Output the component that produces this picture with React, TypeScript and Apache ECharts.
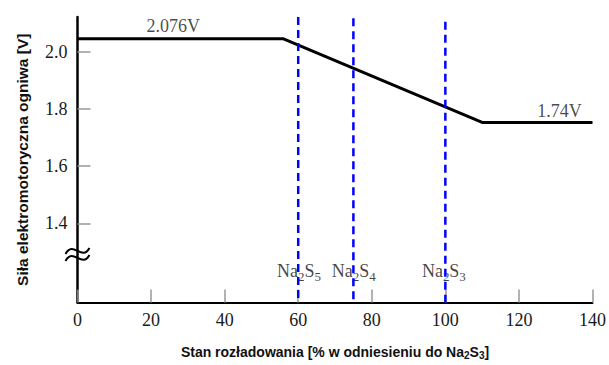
import React, { useEffect, useRef } from "react";
import * as echarts from "echarts";

// Discharge curve (x: state of discharge %, y: EMF V)
const emfX = [0, 56, 110, 140];
const emfY = [2.045, 2.045, 1.753, 1.753];

// Axis ticks
const xTicks = [0, 20, 40, 60, 80, 100, 120, 140];
const yTickValues = [1.4, 1.6, 1.8, 2.0];

// Compound boundaries
const compoundNames = ["Na2S5", "Na2S4", "Na2S3"];
const compoundX = [60, 75, 100];
const compoundTop = [2.121, 2.117, 2.104];
const compoundLabelX = [60.2, 75.1, 99.6];
const compoundLabelY = [1.2325, 1.2325, 1.2325];

// Voltage annotations
const voltageLabels = ["2.076V", "1.74V"];
const voltageLabelX = [26, 131];
const voltageLabelY = [2.09, 1.793];

const Y_MIN = 1.124;
const Y_MAX = 2.121;
const BREAK_VALUE = 1.29;

const serif = "'Liberation Serif', 'DejaVu Serif', serif";
const sans = "'Liberation Sans', Arial, sans-serif";

const toRich = (s: string) => s.replace(/(\d)/g, "{s|$1}");

export default function App() {
  const ref = useRef<HTMLDivElement>(null);
  useEffect(() => {
    if (!ref.current) return;
    const chart = echarts.init(ref.current, null, { renderer: "svg" });
    const subRich = {
      s: { fontSize: 13, fontFamily: serif, color: "#111", padding: [10, 0, 0, 0], lineHeight: 14 },
    };
    chart.setOption({
      animation: false,
      backgroundColor: "#ffffff",
      grid: { left: 77.5, top: 17, right: 14, bottom: 62, containLabel: false },
      xAxis: {
        type: "value",
        min: xTicks[0],
        max: xTicks[xTicks.length - 1],
        interval: 20,
        name: "Stan rozładowania [% w odniesieniu do Na{s|2}S{s|3}]",
        nameLocation: "middle",
        nameGap: 42,
        nameTextStyle: {
          fontFamily: sans,
          fontWeight: "bold",
          fontSize: 14,
          color: "#111",
          rich: {
            s: { fontFamily: sans, fontWeight: "bold", fontSize: 10, color: "#111", padding: [7, 0, 0, 0], lineHeight: 10 },
          },
        },
        axisLine: { show: true, onZero: false, lineStyle: { color: "#000", width: 2 } },
        axisTick: { show: true, inside: true, length: 13, lineStyle: { color: "#999", width: 1.5 } },
        axisLabel: { fontFamily: serif, fontSize: 18, color: "#1a1a1a", margin: 8 },
        splitLine: { show: false },
      },
      yAxis: {
        type: "value",
        min: Y_MIN,
        max: Y_MAX,
        name: "Siła elektromotoryczna ogniwa [V]",
        nameLocation: "middle",
        nameGap: 47,
        nameTextStyle: { fontFamily: sans, fontWeight: "bold", fontSize: 15.5, color: "#111" },
        axisLine: { show: true, onZero: false, lineStyle: { color: "#000", width: 2.5 } },
        axisTick: {
          show: true,
          inside: true,
          length: 13,
          customValues: yTickValues,
          lineStyle: { color: "#999", width: 1.5 },
        },
        axisLabel: {
          customValues: yTickValues,
          formatter: (v: number) => v.toFixed(1),
          fontFamily: serif,
          fontSize: 18,
          color: "#1a1a1a",
          margin: 10,
        },
        splitLine: { show: false },
      },
      series: [
        {
          type: "scatter",
          z: 1,
          symbolSize: 0,
          silent: true,
          data: compoundNames.map((n, i) => ({ value: [compoundLabelX[i], compoundLabelY[i]], name: n })),
          label: {
            show: true,
            position: "inside",
            formatter: (p: any) => toRich(p.name),
            fontFamily: serif,
            fontSize: 18,
            color: "#111",
            lineHeight: 20,
            rich: subRich,
          },
        },
        {
          type: "scatter",
          z: 1,
          symbolSize: 0,
          silent: true,
          data: voltageLabels.map((n, i) => ({ value: [voltageLabelX[i], voltageLabelY[i]], name: n })),
          label: {
            show: true,
            position: "inside",
            formatter: (p: any) => p.name,
            fontFamily: serif,
            fontSize: 18,
            color: "#1a1a1a",
          },
        },
        {
          type: "line",
          z: 3,
          symbol: "none",
          silent: true,
          data: emfX.map((x, i) => [x, emfY[i]]),
          lineStyle: { color: "#000", width: 3 },
        },
        ...compoundX.map((x, i) => ({
          type: "line",
          z: 5,
          symbol: "none",
          silent: true,
          data: [
            [x, compoundTop[i]],
            [x, Y_MIN],
          ],
          lineStyle: { color: "#0000ff", width: 2.5, type: [8, 5] },
        })),
      ],
    });

    const p = chart.convertToPixel({ gridIndex: 0 }, [0, BREAK_VALUE]) as number[];
    const cx = p[0];
    const cy = p[1];
    const wave = (dy: number) => ({
      type: "bezierCurve",
      shape: { x1: -12, y1: dy + 2, cpx1: -4, cpy1: dy - 12, cpx2: 4, cpy2: dy + 10, x2: 12, y2: dy - 4 },
      style: { stroke: "#000", lineWidth: 2, fill: "none" },
    });
    chart.setOption({
      graphic: [
        {
          type: "group",
          x: cx,
          y: cy,
          children: [
            { type: "rect", shape: { x: -3, y: -2, width: 6, height: 6 }, style: { fill: "#fff" } },
            wave(-3),
            wave(4),
          ],
        },
      ],
    });

    return () => chart.dispose();
  }, []);
  return (
    <div
      ref={ref}
      style={{ position: "fixed", left: 0, top: 0, width: 609, height: 365, background: "#fff" }}
    />
  );
}
